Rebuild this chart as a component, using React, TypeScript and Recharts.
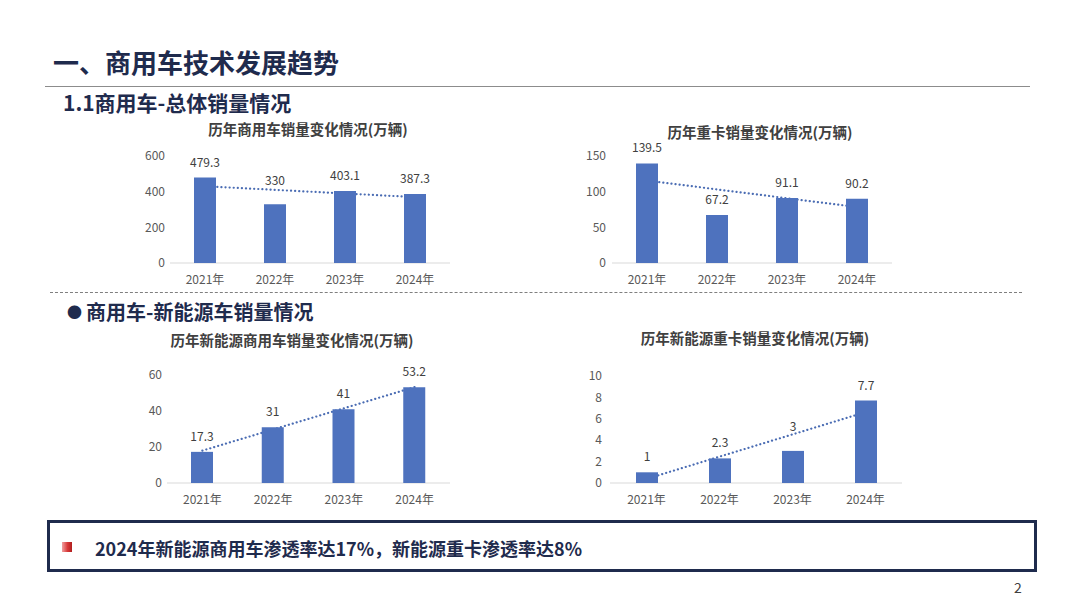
import React from 'react';
import { ComposedChart, Bar, Line, XAxis, YAxis, LabelList } from 'recharts';

const years = ['2021年', '2022年', '2023年', '2024年'];
const totalSales = [479.3, 330, 403.1, 387.3];
const heavySales = [139.5, 67.2, 91.1, 90.2];
const nevSales = [17.3, 31, 41, 53.2];
const nevHeavySales = [1, 2.3, 3, 7.7];

const totalTicks = [0, 200, 400, 600];
const heavyTicks = [0, 50, 100, 150];
const nevTicks = [0, 20, 40, 60];
const nevHeavyTicks = [0, 2, 4, 6, 8, 10];

const FONT = '"Noto Sans CJK SC", "Noto Sans", sans-serif';
const NAVY = '#1f2b4d';
const BAR = '#4e72be';
const TOP_PAD = 30;

// Excel-style linear trendline (least squares) derived from the series
function linearTrend(vals: number[]): number[] {
  const n = vals.length;
  const xs = vals.map((_, i) => i + 1);
  const mx = xs.reduce((a, b) => a + b, 0) / n;
  const my = vals.reduce((a, b) => a + b, 0) / n;
  let num = 0;
  let den = 0;
  for (let i = 0; i < n; i++) {
    num += (xs[i] - mx) * (vals[i] - my);
    den += (xs[i] - mx) * (xs[i] - mx);
  }
  const slope = num / den;
  return xs.map((x) => +(my + slope * (x - mx)).toFixed(3));
}

function buildRows(vals: number[]) {
  const t = linearTrend(vals);
  return years.map((y, i) => ({ year: y, value: vals[i], trend: t[i] }));
}

type ChartProps = {
  title: string;
  titleCx: number;
  titleCy: number;
  values: number[];
  ticks: number[];
  left: number;
  plotTop: number;
  width: number;
  plotHeight: number;
  yGap: number;
  lift?: number[];
};

function SalesChart(p: ChartProps) {
  const rows = buildRows(p.values);
  const lift = p.lift || [];
  const max = p.ticks[p.ticks.length - 1];
  const h = TOP_PAD + p.plotHeight + 30;
  const top = p.plotTop - TOP_PAD;
  const margin = { top: TOP_PAD, right: 0, bottom: 0, left: 0 };
  const renderLabel = (props: any) => {
    const { x, y, width, value, index } = props;
    const cx = Number(x) + Number(width) / 2;
    const by = Number(y) - 11 - (lift[index] || 0);
    return (
      <text x={cx} y={by} textAnchor="middle" fill="#404040" fontSize={12} fontFamily={FONT}>
        {value}
      </text>
    );
  };
  return (
    <>
      <div
        style={{
          position: 'absolute',
          left: p.titleCx - 200,
          top: p.titleCy - 10,
          width: 400,
          height: 20,
          lineHeight: '20px',
          textAlign: 'center',
          fontFamily: FONT,
          fontWeight: 700,
          fontSize: 14.5,
          color: '#404040',
          whiteSpace: 'nowrap',
        }}
      >
        {p.title}
      </div>
      {/* layer 1: axes + dotted linear trendline (drawn behind the bars) */}
      <div style={{ position: 'absolute', left: p.left, top }}>
        <ComposedChart width={p.width} height={h} data={rows} margin={margin}>
          <XAxis
            dataKey="year"
            scale="band"
            height={30}
            tickSize={0}
            tickMargin={12}
            tickLine={false}
            axisLine={{ stroke: '#d9d9d9', strokeWidth: 1.2 }}
            tick={{ fontSize: 12, fill: '#595959', fontFamily: FONT }}
          />
          <YAxis
            width={70}
            domain={[0, max]}
            ticks={p.ticks}
            interval={0}
            tickSize={0}
            tickMargin={p.yGap}
            tickLine={false}
            axisLine={false}
            tick={{ fontSize: 12, fill: '#595959', fontFamily: FONT }}
          />
          <Line
            dataKey="trend"
            type="linear"
            stroke="#4a6cb3"
            strokeWidth={2.2}
            strokeDasharray="0.1 4"
            strokeLinecap="round"
            dot={false}
            activeDot={false}
            isAnimationActive={false}
          />
        </ComposedChart>
      </div>
      {/* layer 2: bars and value labels on top */}
      <div style={{ position: 'absolute', left: p.left, top }}>
        <ComposedChart width={p.width} height={h} data={rows} margin={margin}>
          <XAxis dataKey="year" scale="band" height={30} tick={false} tickLine={false} axisLine={false} />
          <YAxis width={70} domain={[0, max]} ticks={p.ticks} tick={false} tickLine={false} axisLine={false} />
          <Bar dataKey="value" fill={BAR} barSize={22} isAnimationActive={false}>
            <LabelList dataKey="value" content={renderLabel} />
          </Bar>
        </ComposedChart>
      </div>
    </>
  );
}

export default function App() {
  return (
    <div
      style={{
        position: 'absolute',
        left: 0,
        top: 0,
        width: 1080,
        height: 608,
        background: '#ffffff',
        overflow: 'hidden',
        fontFamily: FONT,
      }}
    >
      {/* main title */}
      <div
        style={{
          position: 'absolute',
          left: 53,
          top: 44,
          height: 36,
          lineHeight: '36px',
          fontSize: 26,
          fontWeight: 700,
          color: NAVY,
          whiteSpace: 'nowrap',
        }}
      >
        一、商用车技术发展趋势
      </div>
      <div style={{ position: 'absolute', left: 45, top: 86, width: 985, height: 1, background: '#8c8c8c' }} />

      {/* section 1 heading */}
      <div
        style={{
          position: 'absolute',
          left: 63,
          top: 88,
          height: 28,
          lineHeight: '28px',
          fontSize: 21,
          fontWeight: 700,
          color: NAVY,
          whiteSpace: 'nowrap',
        }}
      >
        1.1商用车-总体销量情况
      </div>

      <SalesChart
        title="历年商用车销量变化情况(万辆)"
        titleCx={308}
        titleCy={129}
        values={totalSales}
        ticks={totalTicks}
        left={100}
        plotTop={156}
        width={350}
        plotHeight={107}
        yGap={5}
        lift={[0, 8, 0, 0]}
      />
      <SalesChart
        title="历年重卡销量变化情况(万辆)"
        titleCx={760}
        titleCy={132}
        values={heavySales}
        ticks={heavyTicks}
        left={542}
        plotTop={156}
        width={350}
        plotHeight={107}
        yGap={6}
      />

      {/* dashed separator */}
      <div
        style={{
          position: 'absolute',
          left: 50,
          top: 292,
          width: 972,
          height: 0,
          borderTop: '1.2px dashed #7f7f7f',
        }}
      />

      {/* section 2 heading */}
      <div
        style={{
          position: 'absolute',
          left: 67,
          top: 298,
          height: 28,
          lineHeight: '28px',
          fontSize: 20,
          fontWeight: 700,
          color: NAVY,
          whiteSpace: 'nowrap',
        }}
      >
        <span style={{ fontSize: 15, marginRight: 4, position: 'relative', top: -2 }}>●</span>
        商用车-新能源车销量情况
      </div>

      <SalesChart
        title="历年新能源商用车销量变化情况(万辆)"
        titleCx={292}
        titleCy={340}
        values={nevSales}
        ticks={nevTicks}
        left={97}
        plotTop={375}
        width={353}
        plotHeight={108}
        yGap={5}
      />
      <SalesChart
        title="历年新能源重卡销量变化情况(万辆)"
        titleCx={755}
        titleCy={338}
        values={nevHeavySales}
        ticks={nevHeavyTicks}
        left={540}
        plotTop={376}
        width={362}
        plotHeight={107}
        yGap={8}
        lift={[0, 0, 9, 0]}
      />

      {/* bottom callout box */}
      <div
        style={{
          position: 'absolute',
          left: 47,
          top: 520,
          width: 991 - 7,
          height: 53 - 7,
          border: `3.5px solid ${NAVY}`,
          background: '#ffffff',
        }}
      />
      <div
        style={{
          position: 'absolute',
          left: 62,
          top: 542,
          width: 10,
          height: 10,
          background: 'linear-gradient(90deg, #f0a0a0 0%, #d83a3a 55%, #b01e1e 100%)',
        }}
      />
      <div
        style={{
          position: 'absolute',
          left: 95,
          top: 535,
          height: 26,
          lineHeight: '26px',
          fontSize: 18,
          fontWeight: 700,
          color: NAVY,
          whiteSpace: 'nowrap',
        }}
      >
        2024年新能源商用车渗透率达17%，新能源重卡渗透率达8%
      </div>
      <div
        style={{
          position: 'absolute',
          left: 1014,
          top: 577,
          height: 20,
          lineHeight: '20px',
          fontSize: 14,
          color: '#404040',
        }}
      >
        2
      </div>
    </div>
  );
}
